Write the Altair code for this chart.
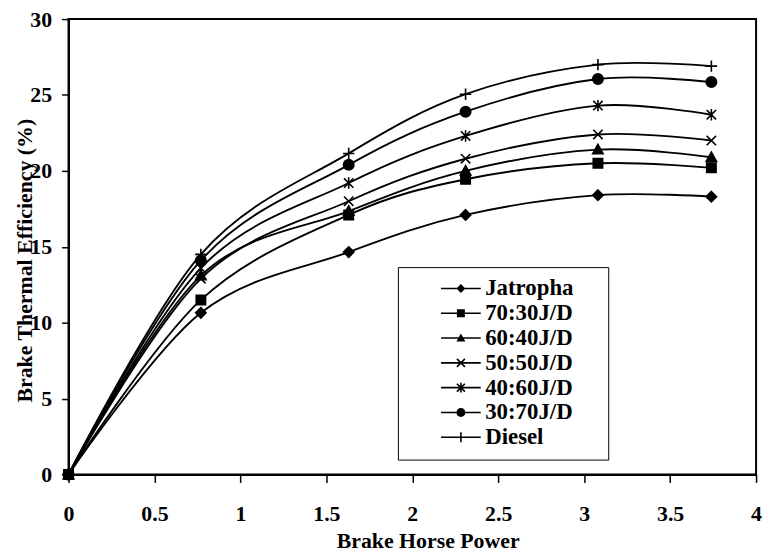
import altair as alt
import pandas as pd

# ---- data ----
bhp = [0, 0.77, 1.63, 2.31, 3.08, 3.74]
series = ["Jatropha", "70:30J/D", "60:40J/D", "50:50J/D", "40:60J/D", "30:70J/D", "Diesel"]
jatropha = [0, 10.65, 14.65, 17.1, 18.4, 18.3]
b70_30 = [0, 11.5, 17.1, 19.45, 20.5, 20.2]
b60_40 = [0, 13.1, 17.35, 20.0, 21.4, 20.9]
b50_50 = [0, 12.9, 18.0, 20.8, 22.4, 22.0]
b40_60 = [0, 13.6, 19.2, 22.3, 24.3, 23.7]
b30_70 = [0, 14.1, 20.4, 23.9, 26.05, 25.85]
diesel = [0, 14.5, 21.15, 25.05, 27.0, 26.9]
values = [jatropha, b70_30, b60_40, b50_50, b40_60, b30_70, diesel]

rows = []
for name, vals in zip(series, values):
    for xv, yv in zip(bhp, vals):
        rows.append({"series": name, "bhp": xv, "bte": yv})
df = pd.DataFrame(rows)

# marker shapes (unit paths)
marker_paths = [
    "M0,-1L1,0L0,1L-1,0Z",                 # diamond
    "M-0.9,-0.9L0.9,-0.9L0.9,0.9L-0.9,0.9Z",  # square
    "M0,-1L1,0.8L-1,0.8Z",                 # triangle
    "M-0.9,-0.9L0.9,0.9M-0.9,0.9L0.9,-0.9",  # x
    "M-0.9,-0.9L0.9,0.9M-0.9,0.9L0.9,-0.9M0,-1.1L0,1.1",  # asterisk
    "circle",
    "M-1.1,0L1.1,0M0,-1.1L0,1.1",          # plus
]
# legend symbols drawn as filled outlines: line segment plus a small marker
SEG = "M-2,-0.08L2,-0.08L2,0.08L-2,0.08Z"
XD1 = "M-0.343,-0.457L0.457,0.343L0.343,0.457L-0.457,-0.343Z"
XD2 = "M0.457,-0.343L-0.343,0.457L-0.457,0.343L0.343,-0.457Z"
VB = "M-0.08,-0.5L0.08,-0.5L0.08,0.5L-0.08,0.5Z"
legend_paths = [
    SEG + "M0,-0.45L0.45,0L0,0.45L-0.45,0Z",
    SEG + "M-0.4,-0.4L0.4,-0.4L0.4,0.4L-0.4,0.4Z",
    SEG + "M0,-0.45L0.45,0.35L-0.45,0.35Z",
    SEG + XD1 + XD2,
    SEG + XD1 + XD2 + VB,
    SEG + "M-0.45,0A0.45,0.45,0,1,1,0.45,0A0.45,0.45,0,1,1,-0.45,0Z",
    SEG + VB,
]

FONT = "Liberation Serif"

x_enc = alt.X(
    "bhp:Q",
    scale=alt.Scale(domain=[0, 4], nice=False),
    axis=alt.Axis(
        title="Brake Horse Power",
        values=[0, 0.5, 1, 1.5, 2, 2.5, 3, 3.5, 4],
        format="~g",
        tickSize=8,
        labelPadding=21,
        labelFlush=False,
        titleX=362,
        titleY=57,
        titleBaseline="top",
    ),
)
y_enc = alt.Y(
    "bte:Q",
    scale=alt.Scale(domain=[0, 30], nice=False),
    axis=alt.Axis(
        title="Brake Thermal Efficiency (%)",
        values=[0, 5, 10, 15, 20, 25, 30],
        tickSize=7,
        labelPadding=10,
        labelFlush=False,
        titleX=-37,
        titleY=243,
        titleAngle=270,
        titleBaseline="alphabetic",
    ),
)

lines = alt.Chart(df).mark_line(
    interpolate="cardinal", color="black", strokeWidth=1.9
).encode(
    x=x_enc,
    y=y_enc,
    detail="series:N",
)

points = alt.Chart(df).mark_point(
    fill="black", stroke="black", strokeWidth=1.6, opacity=1, size=110
).encode(
    x="bhp:Q",
    y="bte:Q",
    shape=alt.Shape(
        "series:N",
        scale=alt.Scale(domain=series, range=marker_paths),
        legend=None,
    ),
)

legend_layer = alt.Chart(df).transform_filter("false").mark_point(
    filled=True, color="black", opacity=1
).encode(
    x="bhp:Q",
    y="bte:Q",
    shape=alt.Shape(
        "series:N",
        scale=alt.Scale(domain=series, range=legend_paths),
        legend=alt.Legend(
            title="\u2003",
            titleOrient="right",
            titleFontSize=15,
            titlePadding=25,
            titleColor="white",
            orient="none",
            legendX=332,
            legendY=250,
            direction="vertical",
            labelFont=FONT,
            labelFontWeight="bold",
            labelFontSize=23,
            labelColor="black",
            labelOffset=13,
            symbolOffset=42,
            symbolSize=400,
            symbolStrokeWidth=0,
            symbolFillColor="black",
            rowPadding=1,
            padding=10,
            strokeColor="black",
            fillColor="white",
        ),
    ),
)

chart = (
    alt.layer(lines, points, legend_layer)
    .resolve_scale(shape="independent")
    .resolve_legend(shape="independent")
    .properties(
        width=693,
        height=459,
        autosize=alt.AutoSizeParams(type="none"),
        padding={"left": 61, "top": 9, "right": 8, "bottom": 80},
        background="white",
    )
    .configure_view(stroke="black", strokeWidth=2)
    .configure_axis(
        grid=False,
        domainColor="black",
        domainWidth=2,
        tickColor="black",
        tickWidth=1.5,
        labelFont=FONT,
        labelFontWeight="bold",
        labelFontSize=22,
        labelColor="black",
        titleFont=FONT,
        titleFontWeight="bold",
        titleFontSize=22,
        titleColor="black",
    )
)

chart.save("out.html", embed_options={"renderer": "svg", "actions": False})
